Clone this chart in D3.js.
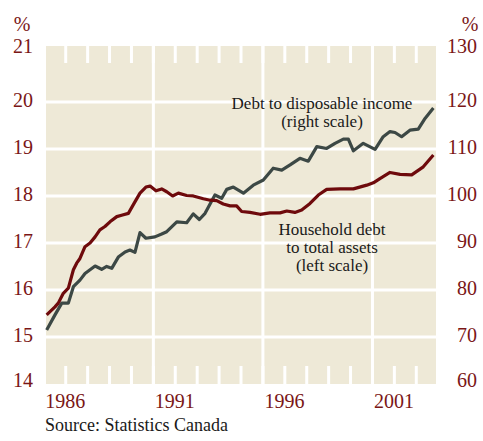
<!DOCTYPE html>
<html><head><meta charset="utf-8">
<script src="https://cdn.jsdelivr.net/npm/d3@7"></script>
<style>
html,body{margin:0;padding:0;background:#fff;}
svg{display:block;font-family:"Liberation Serif","Times New Roman",serif;}
</style></head>
<body>
<svg id="chart" width="483" height="441"></svg>
<script>
// Household debt to total assets (left scale, %) — [year, value]
const assetYears = [1986.13,1986.51,1986.66,1986.89,1987.12,1987.35,1987.50,1987.65,1987.88,1988.11,1988.34,1988.56,1988.79,1989.02,1989.33,1989.55,1989.86,1990.08,1990.39,1990.66,1990.85,1991.12,1991.38,1991.61,1991.88,1992.14,1992.52,1992.82,1993.28,1993.59,1993.89,1994.19,1994.50,1994.80,1995.03,1995.41,1995.87,1996.32,1996.78,1997.09,1997.46,1997.77,1998.15,1998.53,1998.91,1999.52,2000.13,2000.74,2001.04,2001.34,2001.80,2002.26,2002.79,2003.32,2003.78];
const assetValues = [15.47,15.64,15.72,15.93,16.04,16.43,16.57,16.67,16.92,17.00,17.13,17.28,17.35,17.45,17.56,17.59,17.63,17.81,18.06,18.19,18.21,18.11,18.15,18.09,18.00,18.06,18.01,18.00,17.94,17.91,17.90,17.83,17.79,17.79,17.67,17.65,17.61,17.64,17.64,17.68,17.65,17.70,17.84,18.02,18.14,18.15,18.15,18.23,18.28,18.37,18.50,18.46,18.45,18.62,18.87];

// Debt to disposable income (right scale, %)
const incomeYears = [1986.13,1986.51,1986.82,1987.12,1987.35,1987.65,1987.88,1988.11,1988.34,1988.64,1988.87,1989.10,1989.40,1989.71,1989.93,1990.16,1990.39,1990.66,1991.07,1991.38,1991.61,1992.07,1992.52,1992.82,1993.10,1993.36,1993.81,1994.12,1994.35,1994.65,1995.11,1995.56,1996.02,1996.47,1996.86,1997.24,1997.69,1998.07,1998.46,1998.91,1999.29,1999.67,1999.90,2000.13,2000.58,2001.12,2001.49,2001.80,2002.03,2002.33,2002.71,2003.09,2003.40,2003.78];
const incomeValues = [71.5,74.7,77.2,77.2,80.7,82.1,83.5,84.3,85.1,84.4,85.0,84.6,87.0,88.1,88.5,88.0,92.2,91.0,91.3,91.9,92.4,94.5,94.3,96.2,95.0,96.3,100.2,99.5,101.4,101.9,100.6,102.3,103.4,105.9,105.5,106.6,108.0,107.4,110.5,110.1,111.2,112.1,112.1,109.6,111.2,109.9,112.6,113.7,113.5,112.6,114.0,114.2,116.5,118.7];

const leftTicks = [14,15,16,17,18,19,20,21];
const rightTicks = [60,70,80,90,100,110,120,130];
const yearLabels = [1986,1991,1996,2001];
const minorYears = d3.range(1987, 2004);
const gridLeft = [15,16,17,18,19,20];

const svg = d3.select("#chart");
const L = 46, R = 436, T = 46, B = 384;
const x = d3.scaleLinear().domain([1986.1, 2003.9]).range([L, R]);
const yL = d3.scaleLinear().domain([14, 21.19]).range([B, T]);
const yR = d3.scaleLinear().domain([60, 131.9]).range([B, T]);

const bg = "#EEE9D7", red = "#6E0A0C", gray = "#3C4845", lab = "#7A1616";

svg.append("rect").attr("x", L).attr("y", T).attr("width", R - L).attr("height", B - T).attr("fill", bg);

// gridlines
svg.append("g").selectAll("line").data(gridLeft).join("line")
  .attr("x1", L).attr("x2", R).attr("y1", d => yL(d)).attr("y2", d => yL(d))
  .attr("stroke", "#fff").attr("stroke-width", 3);
svg.append("g").selectAll("line").data([1991, 1996, 2001]).join("line")
  .attr("x1", d => x(d)).attr("x2", d => x(d)).attr("y1", T).attr("y2", B)
  .attr("stroke", "#fff").attr("stroke-width", 3);
// minor year ticks top/bottom
const mt = svg.append("g");
mt.selectAll("line.t").data(minorYears).join("line").attr("class", "t")
  .attr("x1", d => x(d)).attr("x2", d => x(d)).attr("y1", T).attr("y2", T + 17)
  .attr("stroke", "#fff").attr("stroke-width", 3);
mt.selectAll("line.b").data(minorYears).join("line").attr("class", "b")
  .attr("x1", d => x(d)).attr("x2", d => x(d)).attr("y1", B - 18).attr("y2", B)
  .attr("stroke", "#fff").attr("stroke-width", 3);

// lines
const lineL = d3.line().x(d => x(d[0])).y(d => yL(d[1]));
const lineR = d3.line().x(d => x(d[0])).y(d => yR(d[1]));
svg.append("path").datum(d3.zip(incomeYears, incomeValues)).attr("d", lineR)
  .attr("fill", "none").attr("stroke", gray).attr("stroke-width", 3.2).attr("stroke-linejoin", "round");
svg.append("path").datum(d3.zip(assetYears, assetValues)).attr("d", lineL)
  .attr("fill", "none").attr("stroke", red).attr("stroke-width", 3.2).attr("stroke-linejoin", "round");

// axes
function yOff(i, n) { return i === n - 1 ? -2.5 : (i === 0 ? 2.5 : 4.5); }
const axL = svg.append("g").attr("transform", "translate(35,0)")
  .call(d3.axisLeft(yL).tickValues(leftTicks).tickSize(0).tickPadding(2));
axL.select(".domain").remove();
axL.selectAll("text").attr("dy", null).attr("y", (d, i) => yOff(i, leftTicks.length))
  .attr("fill", lab).style("font-size", "20px").style("font-family", "Liberation Serif, serif");

const axR = svg.append("g").attr("transform", "translate(477,0)")
  .call(d3.axisLeft(yR).tickValues(rightTicks).tickSize(0).tickPadding(0));
axR.select(".domain").remove();
axR.selectAll("text").attr("dy", null).attr("y", (d, i) => yOff(i, rightTicks.length))
  .attr("fill", lab).style("font-size", "20px").style("font-family", "Liberation Serif, serif");

const axX = svg.append("g").attr("transform", "translate(0,408)")
  .call(d3.axisBottom(x).tickValues(yearLabels).tickFormat(d3.format("d")).tickSize(0).tickPadding(0));
axX.select(".domain").remove();
axX.selectAll("text").attr("dy", null).attr("y", 0).attr("text-anchor", "start").attr("x", 1)
  .attr("fill", lab).style("font-size", "20px").style("font-family", "Liberation Serif, serif");

// % units
svg.append("text").attr("x", 22).attr("y", 31).attr("text-anchor", "middle")
  .attr("fill", lab).style("font-size", "20px").text("%");
svg.append("text").attr("x", 470).attr("y", 31).attr("text-anchor", "middle")
  .attr("fill", lab).style("font-size", "20px").text("%");

// annotations
const ann = svg.append("g").attr("fill", "#1a1a1a").style("font-size", "17px").attr("text-anchor", "middle");
ann.append("text").attr("x", 322).attr("y", 109).text("Debt to disposable income");
ann.append("text").attr("x", 322).attr("y", 127).text("(right scale)");
ann.append("text").attr("x", 332).attr("y", 235).text("Household debt");
ann.append("text").attr("x", 332).attr("y", 253).text("to total assets");
ann.append("text").attr("x", 332).attr("y", 271).text("(left scale)");

svg.append("text").attr("x", 45).attr("y", 431).attr("fill", "#1a1a1a")
  .style("font-size", "18px").text("Source: Statistics Canada");
</script>
</body></html>
